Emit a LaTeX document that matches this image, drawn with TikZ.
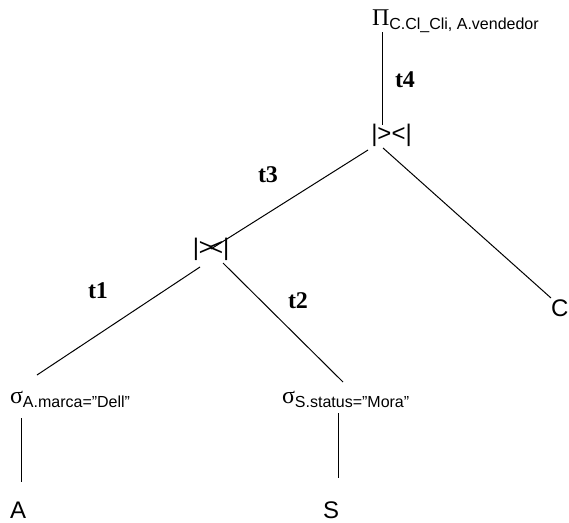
\documentclass[tikz,border=0pt]{standalone}
\usepackage{fontspec}
\setmainfont{Liberation Sans}
\newfontfamily\greekfont{Liberation Serif}
\newfontfamily\labfont{Liberation Serif}
\usepackage{tikz}
\usetikzlibrary{calc}
\newcommand{\opsub}[2]{{\greekfont #1}\raisebox{-4pt}{\fontsize{16}{18}\selectfont #2}}

\begin{document}
\begin{tikzpicture}[x=1pt,y=-1pt,line width=1pt,
    every node/.style={inner sep=0pt,outer sep=0pt,font=\fontsize{24}{28}\selectfont},
    tlab/.style={anchor=base west,font=\fontsize{24}{28}\selectfont\labfont\bfseries}]
                        \useasboundingbox (0,0) rectangle (569,522);
                        \node[anchor=base west] (proj) at (372,25) {\opsub{Π}{C.Cl\_Cli, A.vendedor}};
                        \node[anchor=base] (jtop) at (391.5,141) {|>{}<|};
                        \node[anchor=base] (jlow) at (211,255) {|>\kern-4pt<|};
                        \node[anchor=base west] (selA) at (10,403) {\opsub{σ}{A.marca="Dell”}};
                        \node[anchor=base west] (selS) at (282,403) {\opsub{σ}{S.status="Mora”}};
                        \node[anchor=base west] (relA) at (10,518) {A};
                        \node[anchor=base west] (relS) at (323,518) {S};
                        \node[anchor=base west] (relC) at (551,316) {C};
                        \node[tlab] (t4) at (395,87) {t4};
                        \node[tlab] (t3) at (258,182) {t3};
                        \node[tlab] (t1) at (88,298) {t1};
                        \node[tlab] (t2) at (288,308) {t2};
                        \draw ($(proj.base west)+(10,7)$) -- ($(jtop.base)+(-9.5,-16)$);
                        \draw ($(jtop.base)+(-8.5,7)$) -- ($(relC.base west)+(0,-18)$);
                        \draw ($(jtop.base)+(-23.5,9)$) -- ($(jlow.base)+(0,-6)$);
                        \draw ($(jlow.base)+(-11,12)$) -- ($(selA.base west)+(27,-28)$);
                        \draw ($(jlow.base)+(12,8)$) -- ($(selS.base west)+(61,-21)$);
                        \draw ($(selA.base west)+(11,15)$) -- ($(relA.base west)+(11,-36)$);
                        \draw ($(selS.base west)+(56,10)$) -- ($(relS.base west)+(15,-40)$);
                    \end{tikzpicture}
\end{document}
